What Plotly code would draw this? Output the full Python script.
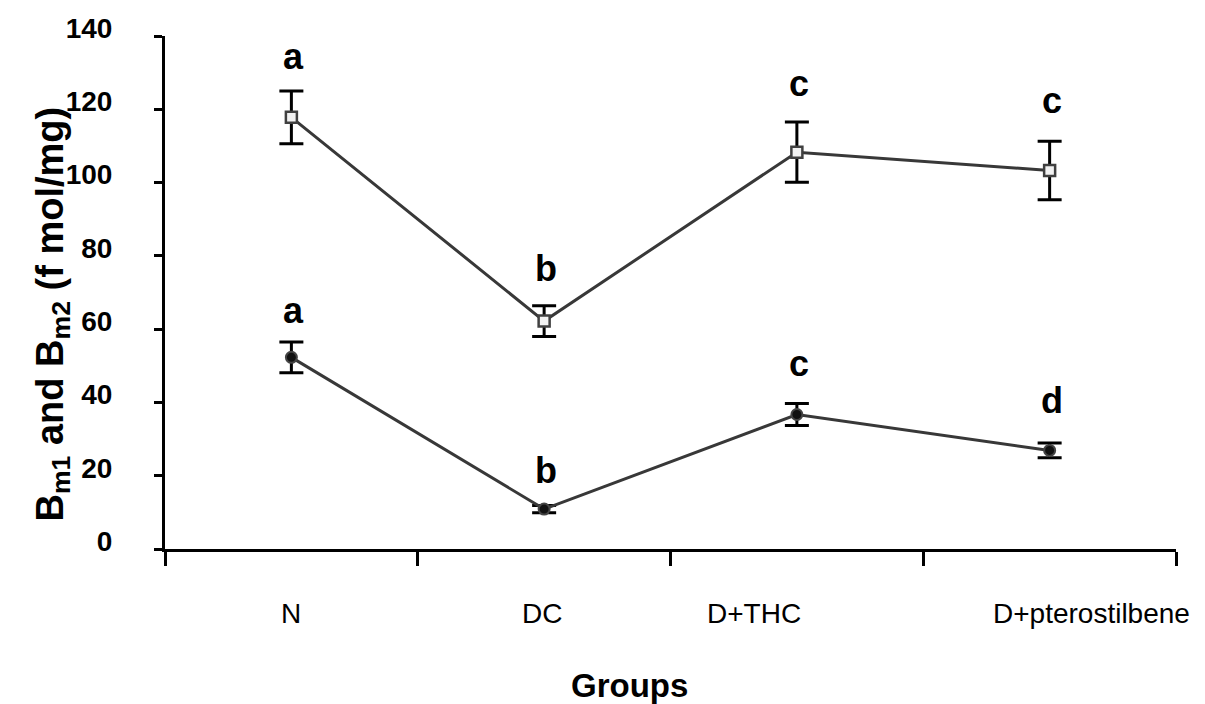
import plotly.graph_objects as go

groups = ["N", "DC", "D+THC", "D+pterostilbene"]
bm2 = [117.8, 62.2, 108.3, 103.3]
bm2_err = [7.2, 4.2, 8.2, 8.0]
bm1 = [52.3, 10.9, 36.7, 26.9]
bm1_err = [4.2, 1.0, 3.0, 2.0]
letters_top = ["a", "b", "c", "c"]
letters_bot = ["a", "b", "c", "d"]
letters_top_y = [134.5, 76.5, 127, 122.5]
letters_bot_y = [65, 21.5, 50.5, 40.5]

xpos = [1, 2, 3, 4]
font = "Liberation Sans, Arial, sans-serif"

fig = go.Figure()
fig.add_trace(go.Scatter(
    x=xpos, y=bm2, mode="lines+markers",
    line=dict(color="#383838", width=3),
    marker=dict(symbol="square", size=11, color="#f2f2f2", line=dict(color="#404040", width=2.5)),
    error_y=dict(type="data", array=bm2_err, color="black", thickness=3, width=12),
    showlegend=False))
fig.add_trace(go.Scatter(
    x=xpos, y=bm1, mode="lines+markers",
    line=dict(color="#383838", width=3),
    marker=dict(symbol="circle", size=11, color="#111111", line=dict(color="#444444", width=2)),
    error_y=dict(type="data", array=bm1_err, color="black", thickness=3, width=12),
    showlegend=False))

for i, (lt, yt) in enumerate(zip(letters_top, letters_top_y)):
    fig.add_annotation(x=xpos[i], y=yt, text=lt, showarrow=False, xshift=2,
                       font=dict(family=font, size=36, color="black", weight="bold"))
for i, (lb, yb) in enumerate(zip(letters_bot, letters_bot_y)):
    fig.add_annotation(x=xpos[i], y=yb, text=lb, showarrow=False, xshift=2,
                       font=dict(family=font, size=36, color="black", weight="bold"))

label_shift = [0, -2, -43, 42]
for i, g in enumerate(groups):
    fig.add_annotation(x=xpos[i], y=0, yref="y", text=g, showarrow=False,
                       yshift=-64, xshift=label_shift[i],
                       font=dict(family=font, size=28, color="black"))

fig.add_annotation(x=0.5, xref="paper", xshift=-41, y=0, yref="paper", yanchor="middle",
                   yshift=-136, text="Groups", showarrow=False,
                   font=dict(family=font, size=33, color="black", weight="bold"))

fig.add_annotation(x=0, xref="paper", xshift=-138, y=64, yref="y",
                   text="B<sub>m1</sub> and B<sub>m2</sub> (f mol/mg)", showarrow=False,
                   textangle=-90,
                   font=dict(family=font, size=38, color="black", weight="bold"))

fig.update_layout(
    width=1205, height=704,
    margin=dict(l=165, r=29, t=36, b=155),
    paper_bgcolor="white", plot_bgcolor="white",
    font=dict(family=font, color="black"),
    xaxis=dict(range=[0.5, 4.5], tickvals=[0.5, 1.5, 2.5, 3.5, 4.5], ticktext=["", "", "", "", ""],
               showline=True, linecolor="black", linewidth=3, ticks="outside", ticklen=14,
               tickwidth=3, tickcolor="black", showgrid=False, zeroline=False),
    yaxis=dict(range=[0, 140], tickvals=[0, 20, 40, 60, 80, 100, 120, 140],
               showline=True, linecolor="black", linewidth=3, ticks="outside", ticklen=8,
               tickwidth=3, tickcolor="black", showgrid=False, zeroline=False,
               ticklabelstandoff=36, ticklabelshift=-8,
               tickfont=dict(family=font, size=28, color="black", weight="bold")),
)

fig.write_html("out.html")
